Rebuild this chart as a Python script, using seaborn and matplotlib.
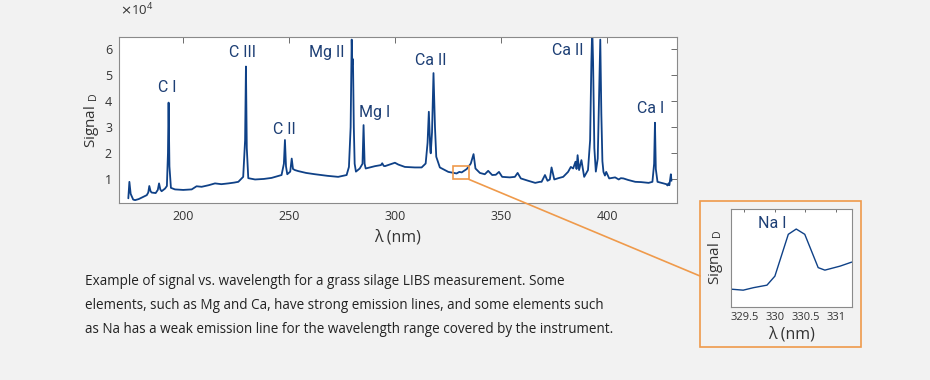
import numpy as np
import pandas as pd
import matplotlib
matplotlib.use('Agg')
import matplotlib.pyplot as plt
import seaborn as sns
from matplotlib.patches import Rectangle, ConnectionPatch

# Spectrum (wavelength in nm, signal in counts)
wavelength = [174.1, 174.6, 175.2, 176.4, 177.3, 179.0, 181.0, 182.8, 183.5, 184.0,
              184.6, 185.1, 187.0, 188.0, 188.6, 189.2, 189.8, 191.4, 192.3, 192.8,
              193.1, 193.5, 194.2, 196.1, 200.0, 204.0, 206.3, 208.7, 212.0, 215.0,
              218.0, 221.3, 224.0, 226.0, 228.3, 229.2, 229.6, 230.0, 230.7, 233.9,
              238.0, 241.7, 246.4, 247.5, 248.0, 248.5, 249.1, 250.5, 251.2, 251.8,
              252.7, 254.3, 258.0, 262.2, 268.0, 273.1, 277.1, 278.2, 279.0, 279.5,
              279.8, 280.1, 280.5, 280.9, 281.5, 283.3, 284.6, 285.1, 285.6, 286.1,
              290.5, 293.3, 293.9, 294.6, 295.2, 299.9, 301.5, 304.6, 309.3, 312.5,
              314.4, 315.3, 315.9, 316.6, 316.8, 317.4, 318.1, 318.8, 319.4, 321.1,
              325.1, 329.0, 330.3, 331.4, 333.8, 335.7, 337.0, 337.9, 340.0, 342.3,
              343.9, 345.8, 347.5, 349.0, 350.5, 354.1, 356.5, 357.8, 359.3, 362.8,
              366.1, 368.3, 369.1, 370.7, 371.9, 373.0, 373.8, 375.1, 377.0, 379.3,
              381.6, 382.9, 384.0, 385.1, 385.6, 386.1, 386.8, 387.9, 389.2, 391.0,
              392.0, 392.6, 393.0, 393.4, 394.0, 394.7, 395.6, 396.3, 396.8, 397.3,
              397.8, 398.3, 399.0, 399.6, 401.0, 403.8, 405.5, 406.5, 407.7, 410.0,
              413.3, 416.0, 419.6, 421.4, 422.2, 422.6, 423.0, 423.8, 426.5, 428.0,
              428.5, 429.0, 429.4, 430.1, 430.4]
signal = [2800, 9100, 4500, 2300, 2100, 2500, 3300, 4000, 5000, 7500,
          5500, 5000, 4800, 6000, 8500, 6200, 5500, 6500, 7500, 20000,
          39400, 15000, 6800, 6200, 6000, 6200, 7400, 7200, 7800, 8500,
          8200, 8500, 8800, 9100, 11000, 25000, 53200, 22000, 10500, 10000,
          10200, 10600, 11700, 16000, 25100, 15000, 12000, 13000, 18000, 14000,
          13600, 13200, 12500, 12000, 11400, 11000, 11700, 14800, 30000, 63500,
          54000, 56000, 30000, 16000, 13000, 14200, 16000, 30800, 16000, 14200,
          15100, 15500, 16200, 15200, 15100, 16400, 15700, 14800, 14600, 14600,
          16100, 24000, 35900, 21000, 20000, 28000, 50700, 30000, 18700, 14600,
          12900, 12300, 12900, 12700, 14000, 16100, 19700, 14200, 12500, 12000,
          13300, 11700, 11800, 12900, 11000, 10800, 11000, 12500, 10400, 9500,
          8700, 9100, 9100, 11700, 9500, 10000, 14600, 10000, 10500, 11000,
          12900, 14800, 14200, 16800, 14000, 19300, 13600, 17400, 11000, 13600,
          25000, 55000, 68000, 55000, 22000, 13000, 18000, 45000, 63500, 35000,
          17000, 12900, 11500, 12900, 10400, 10800, 10000, 10500, 10400, 9800,
          9100, 9000, 8700, 9100, 16000, 31700, 14000, 9100, 8500, 8200,
          7700, 8500, 7800, 12000, 9500]

# Zoomed Na I region
na_wavelength = [329.28, 329.48, 329.65, 329.87, 330.0, 330.22, 330.35, 330.49,
                 330.71, 330.82, 331.07, 331.26]
na_signal = [12150, 12130, 12180, 12230, 12410, 13245, 13350, 13245,
             12580, 12530, 12610, 12690]
na_ticks = [329.5, 330.0, 330.5, 331.0]
na_tick_labels = ['329.5', '330', '330.5', '331']

# Line labels: text, wavelength, signal
line_names = ['C I', 'C III', 'C II', 'Mg II', 'Mg I', 'Ca II', 'Ca II', 'Ca I']
line_x = [192.5, 228.0, 247.7, 267.7, 290.5, 316.9, 381.3, 420.6]
line_y = [45300, 58700, 29200, 58600, 35700, 55400, 59300, 37000]

caption = ("Example of signal vs. wavelength for a grass silage LIBS measurement. Some\n"
           "elements, such as Mg and Ca, have strong emission lines, and some elements such\n"
           "as Na has a weak emission line for the wavelength range covered by the instrument.")

sns.set_style('white')
plt.rcParams['font.family'] = ['Open Sans', 'DejaVu Sans']
plt.rcParams['mathtext.fontset'] = 'dejavusans'

BG = '#f2f2f2'
BLUE = '#0f4187'
LABEL = '#1d3f75'
ORANGE = '#ef9a4b'
GREY = '#333333'

W, H = 930, 380
fig = plt.figure(figsize=(W / 100, H / 100), dpi=100, facecolor=BG)

df = pd.DataFrame({'wavelength': wavelength, 'signal': signal})
df_na = pd.DataFrame({'wavelength': na_wavelength, 'signal': na_signal})


def style_axes(ax, size):
    ax.set_facecolor('white')
    for s in ax.spines.values():
        s.set_color('#8a8a8a')
        s.set_linewidth(0.8)
    ax.tick_params(direction='in', top=True, right=True, length=4, width=0.6,
                   color='#555555', labelcolor=GREY, labelsize=size, pad=5)


# main spectrum
ax = fig.add_axes([119 / W, 1 - 203 / H, (677 - 119) / W, (203 - 37) / H])
sns.lineplot(data=df, x='wavelength', y='signal', ax=ax, color=BLUE, linewidth=1.3)
style_axes(ax, 9)
ax.set_xlim(169.7, 433)
ax.set_ylim(1000, 64500)
ax.set_xticks([200, 250, 300, 350, 400])
ax.set_yticks([10000, 20000, 30000, 40000, 50000, 60000])
ax.set_yticklabels(['1', '2', '3', '4', '5', '6'])
ax.set_xlabel('λ (nm)', fontsize=11.5, color=GREY, labelpad=5)
ax.set_ylabel(r'Signal $_\mathregular{D}$', fontsize=11, color=GREY, labelpad=3)
fig.text(120 / W, 1 - 10 / H, r'$\times\mathregular{10^4}$', ha='left', va='center',
         fontsize=9.5, color=GREY)

for name, x, y in zip(line_names, line_x, line_y):
    ax.text(x, y, name, ha='center', va='center', fontsize=11.5, color=LABEL,
            family=['Roboto', 'DejaVu Sans'])

# zoom box on the main plot
ax.add_patch(Rectangle((327.4, 10000), 7.5, 5100, fill=False, edgecolor=ORANGE,
                       linewidth=1.2, zorder=5))

# orange frame around the inset
fig.patches.append(Rectangle((700 / W, 1 - 346.7 / H), 160.7 / W, 145.7 / H,
                             transform=fig.transFigure, fill=False,
                             edgecolor=ORANGE, linewidth=1.2))
con = ConnectionPatch(xyA=(334.9, 10000), coordsA=ax.transData,
                      xyB=(700 / W, 1 - 276 / H), coordsB=fig.transFigure,
                      color=ORANGE, linewidth=1.2)
fig.add_artist(con)

# inset
axin = fig.add_axes([731 / W, 1 - 306.7 / H, 120.7 / W, 97.7 / H])
sns.lineplot(data=df_na, x='wavelength', y='signal', ax=axin, color=BLUE, linewidth=1.0)
style_axes(axin, 8)
axin.set_xlim(329.28, 331.26)
axin.set_ylim(11800, 13750)
axin.set_xticks(na_ticks, labels=na_tick_labels)
axin.set_yticks([])
axin.tick_params(length=2, pad=4)
axin.set_xlabel('λ (nm)', fontsize=11.5, color=GREY, labelpad=2)
axin.set_ylabel(r'Signal $_\mathregular{D}$', fontsize=11, color=GREY, labelpad=4)
axin.text(329.95, 13465, 'Na I', ha='center', va='center', fontsize=11.5, color=LABEL,
          family=['Roboto', 'DejaVu Sans'])

fig.text(85 / W, 1 - 274 / H, caption, ha='left', va='top', fontsize=9.75,
         color='#222222', linespacing=1.8)

fig.savefig('out.png', dpi=100, facecolor=BG)
